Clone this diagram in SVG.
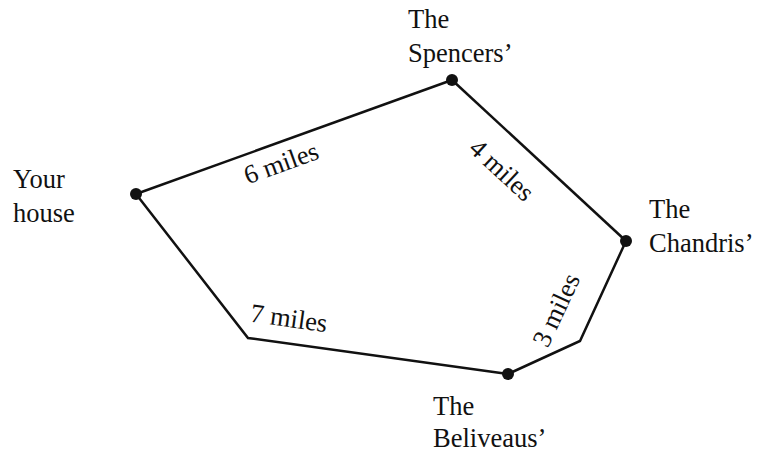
<svg xmlns="http://www.w3.org/2000/svg" width="763" height="453" viewBox="0 0 763 453">
<style>
text{font-family:'Liberation Serif','Times New Roman',serif;font-size:26.5px;fill:#111}
.e{text-anchor:middle}
.ln{fill:none;stroke:#111;stroke-width:2.5;stroke-linejoin:miter}
.dot{fill:#111}
</style>
<rect width="763" height="453" fill="#fff"/>
<g id="connectors">
<polyline class="ln" points="136,194 452,80"/>
<polyline class="ln" points="452,80 626,241"/>
<polyline class="ln" points="136,194 248,338 508,374"/>
<polyline class="ln" points="508,374 580,341 626,241"/>
<text class="e" transform="translate(281,163) rotate(-19.8)" y="9">6 miles</text>
<text class="e" transform="translate(502,170) rotate(42.8)" y="9">4 miles</text>
<text class="e" transform="translate(289,318) rotate(7.9)" y="9">7 miles</text>
<text class="e" transform="translate(556,310) rotate(-65)" y="9">3 miles</text>
</g>
<g id="your-house">
<circle class="dot" cx="136" cy="194" r="6"/>
<text x="13" y="188">Your</text>
<text x="13" y="222">house</text>
</g>
<g id="spencers">
<circle class="dot" cx="452" cy="80" r="6"/>
<text x="408" y="28">The</text>
<text x="408" y="62">Spencers’</text>
</g>
<g id="chandris">
<circle class="dot" cx="626" cy="241" r="6"/>
<text x="649" y="218">The</text>
<text x="649" y="252">Chandris’</text>
</g>
<g id="beliveaus">
<circle class="dot" cx="508" cy="374" r="6"/>
<text x="433" y="415">The</text>
<text x="433" y="447">Beliveaus’</text>
</g>
</svg>
